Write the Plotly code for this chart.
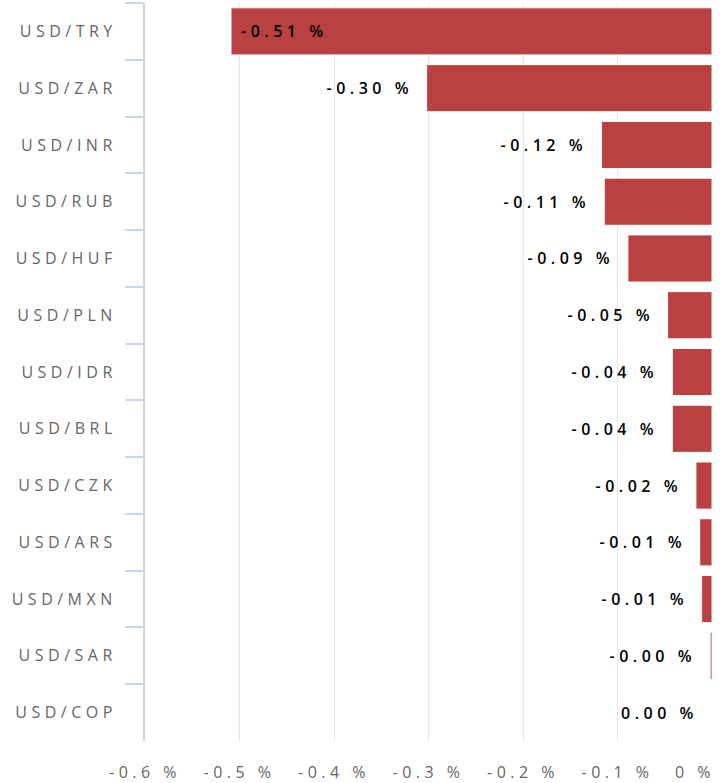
import plotly.graph_objects as go

pairs = ["USD/TRY", "USD/ZAR", "USD/INR", "USD/RUB", "USD/HUF", "USD/PLN", "USD/IDR",
         "USD/BRL", "USD/CZK", "USD/ARS", "USD/MXN", "USD/SAR", "USD/COP"]
changes = [-0.509, -0.302, -0.117, -0.114, -0.089, -0.047, -0.042,
           -0.042, -0.017, -0.013, -0.011, -0.002, 0.0004]
x_tickvals = [-0.6, -0.5, -0.4, -0.3, -0.2, -0.1, 0.0]
x_ticktext = ["-0.6 %", "-0.5 %", "-0.4 %", "-0.3 %", "-0.2 %", "-0.1 %", "0 %"]

FONT = "Open Sans"
BAR = "#b94141"
SPACING = "4.5px"

fig = go.Figure()
fig.add_trace(go.Bar(
    x=changes, y=pairs, orientation="h",
    marker=dict(color=BAR, line=dict(color="#ffffff", width=1)),
    hoverinfo="skip",
))

label_font = dict(family=FONT, size=16, color="#000000", weight=600)
annotations = []
for p, v in zip(pairs, changes):
    label = f"{v:.2f} %"
    if v < -0.4:
        annotations.append(dict(x=v, y=p, xref="x", yref="y", text=label,
                                showarrow=False, xanchor="left", align="left",
                                xshift=8, font=label_font))
    else:
        annotations.append(dict(x=min(v, 0), y=p, xref="x", yref="y", text=label,
                                showarrow=False, xanchor="right", align="right",
                                xshift=-12, font=label_font))

fig.update_layout(
    width=725, height=783,
    margin=dict(l=145, r=13, t=3, b=42, autoexpand=False),
    paper_bgcolor="#ffffff", plot_bgcolor="#ffffff",
    showlegend=False,
    bargap=0.17,
    annotations=annotations,
    xaxis=dict(range=[-0.6, 0], tickvals=x_tickvals, ticktext=x_ticktext,
               showgrid=True, gridcolor="#e6e6e6", gridwidth=1,
               zeroline=False, showline=False, ticks="",
               tickfont=dict(family=FONT, size=16, color="#666666"),
               ticklabelstandoff=20, ticklabeloverflow="allow",
               automargin=False, fixedrange=True),
    yaxis=dict(autorange="reversed", type="category",
               showline=True, linecolor="#ccd6eb", linewidth=2,
               ticks="outside", tickson="boundaries", ticklen=18,
               tickcolor="#ccd6eb", tickwidth=2,
               showgrid=False, zeroline=False,
               tickfont=dict(family=FONT, size=16, color="#666666"),
               ticklabelstandoff=23,
               automargin=False, fixedrange=True),
)

post = """
document.body.style.margin = '0';
var gd = document.getElementById('{plot_id}');
gd.querySelectorAll('.xtick text, .ytick text, .annotation-text').forEach(function (t) {
    t.style.letterSpacing = '%s';
});
gd.querySelectorAll('.xtick text').forEach(function (t) {
    if (t.textContent === '0 %%') { t.setAttribute('text-anchor', 'end'); t.setAttribute('dx', '3'); }
});
""" % SPACING

fig.write_html("out.html", post_script=post, config={"displayModeBar": False})
